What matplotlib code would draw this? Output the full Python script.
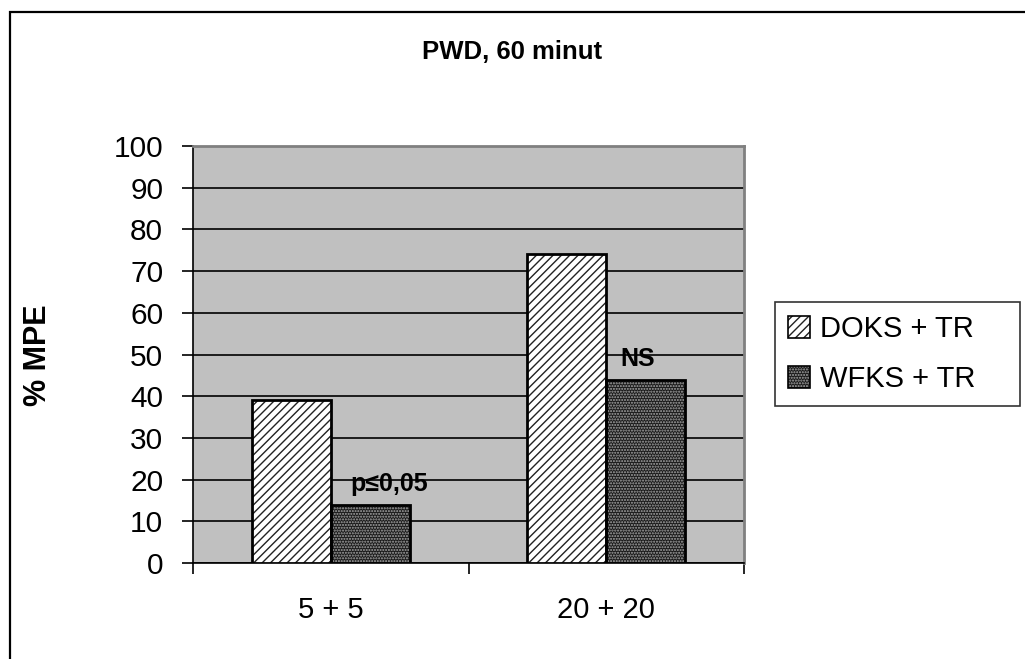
import matplotlib
matplotlib.use("Agg")
import matplotlib.pyplot as plt
from matplotlib.patches import Rectangle, Patch

plt.rcParams['font.family'] = ['Liberation Sans', 'DejaVu Sans']
plt.rcParams['hatch.linewidth'] = 1.0

# data
categories = ["5 + 5", "20 + 20"]
series_names = ["DOKS + TR", "WFKS + TR"]
doks_values = [39, 74]
wfks_values = [14, 44]
annotations = ["p≤0,05", "NS"]
y_ticks = list(range(0, 101, 10))

W, H = 1025, 659
fig = plt.figure(figsize=(W / 100, H / 100), dpi=100)
fig.patch.set_facecolor('white')

# outer chart frame
fig.add_artist(Rectangle((9.5 / W, -0.1), 1.2, 1 - 12 / H + 0.1,
                         transform=fig.transFigure, fill=False,
                         edgecolor='black', linewidth=1.6))

ax = fig.add_axes([193 / W, 1 - 563 / H, (744 - 193) / W, (563 - 146) / H])
ax.set_facecolor('#c0c0c0')

x = list(range(len(categories)))
bw = 0.286
dot_face = '#1a1a1a'
dot_color = '#a8a8a8'

# DOKS bars: white with diagonal hatching
xd = [i - bw / 2 for i in x]
ax.bar(xd, doks_values, width=bw, facecolor='white', edgecolor='#222222',
       hatch='////', linewidth=0, zorder=3)
ax.bar(xd, doks_values, width=bw, facecolor='none', edgecolor='black',
       linewidth=2.0, zorder=4)

# WFKS bars: dark fill with fine dots
xw = [i + bw / 2 for i in x]
ax.bar(xw, wfks_values, width=bw, facecolor=dot_face, edgecolor=dot_color,
       hatch='......', linewidth=0, zorder=3)
ax.bar(xw, wfks_values, width=bw, facecolor='none', edgecolor='black',
       linewidth=2.0, zorder=4)

# significance labels above the WFKS bars
label_dx = [14, -6]
for xi, v, t, dx in zip(xw, wfks_values, annotations, label_dx):
    ax.annotate(t, (xi, v), xytext=(dx, 6), textcoords='offset points',
                ha='center', va='bottom', fontsize=18, fontweight='bold',
                zorder=5)

ax.set_ylim(0, 100)
ax.set_xlim(-0.5, len(categories) - 0.5)
ax.set_yticks(y_ticks)
ax.set_yticklabels([str(v) for v in y_ticks], fontsize=21.5)
ax.yaxis.grid(True, color='black', linewidth=1.2, zorder=1)
ax.set_axisbelow(True)

ax.set_xticks(x)
ax.set_xticklabels(categories, fontsize=21)
ax.set_xticks([-0.5, 0.5, 1.5], minor=True)
ax.tick_params(axis='x', which='major', length=0, pad=24)
ax.tick_params(axis='x', which='minor', length=8, width=1.2, direction='out')
ax.tick_params(axis='y', length=8, width=1.2, direction='out', pad=13.5)

for side in ['top', 'right']:
    ax.spines[side].set_color('#808080')
    ax.spines[side].set_linewidth(2.0)
for side in ['left', 'bottom']:
    ax.spines[side].set_color('black')
    ax.spines[side].set_linewidth(1.2)

fig.text(512 / W, 1 - 52 / H, "PWD, 60 minut", ha='center', va='center',
         fontsize=18.5, fontweight='bold')
fig.text(38 / W, 1 - 355 / H, "% MPE", ha='center', va='center',
         rotation=90, fontsize=22, fontweight='bold')

# legend handles: hatched fill overlaid with a black outline
doks_handle = (Patch(facecolor='white', edgecolor='#222222', hatch='////', linewidth=0),
               Patch(facecolor='none', edgecolor='black', linewidth=1.2))
wfks_handle = (Patch(facecolor=dot_face, edgecolor=dot_color, hatch='......', linewidth=0),
               Patch(facecolor='none', edgecolor='black', linewidth=1.2))
leg_box = (775 / W, 1 - 408 / H, (1020 - 775) / W, (408 - 302) / H)
leg = fig.legend([doks_handle, wfks_handle], series_names, loc='upper left',
                 bbox_to_anchor=leg_box, mode='expand', borderaxespad=0,
                 fontsize=21, frameon=True, fancybox=False, edgecolor='black',
                 handlelength=0.75, handleheight=0.75, handletextpad=0.35,
                 labelspacing=0.75, borderpad=0.45)
leg.get_frame().set_linewidth(1.2)

fig.savefig("out.png", dpi=100)
